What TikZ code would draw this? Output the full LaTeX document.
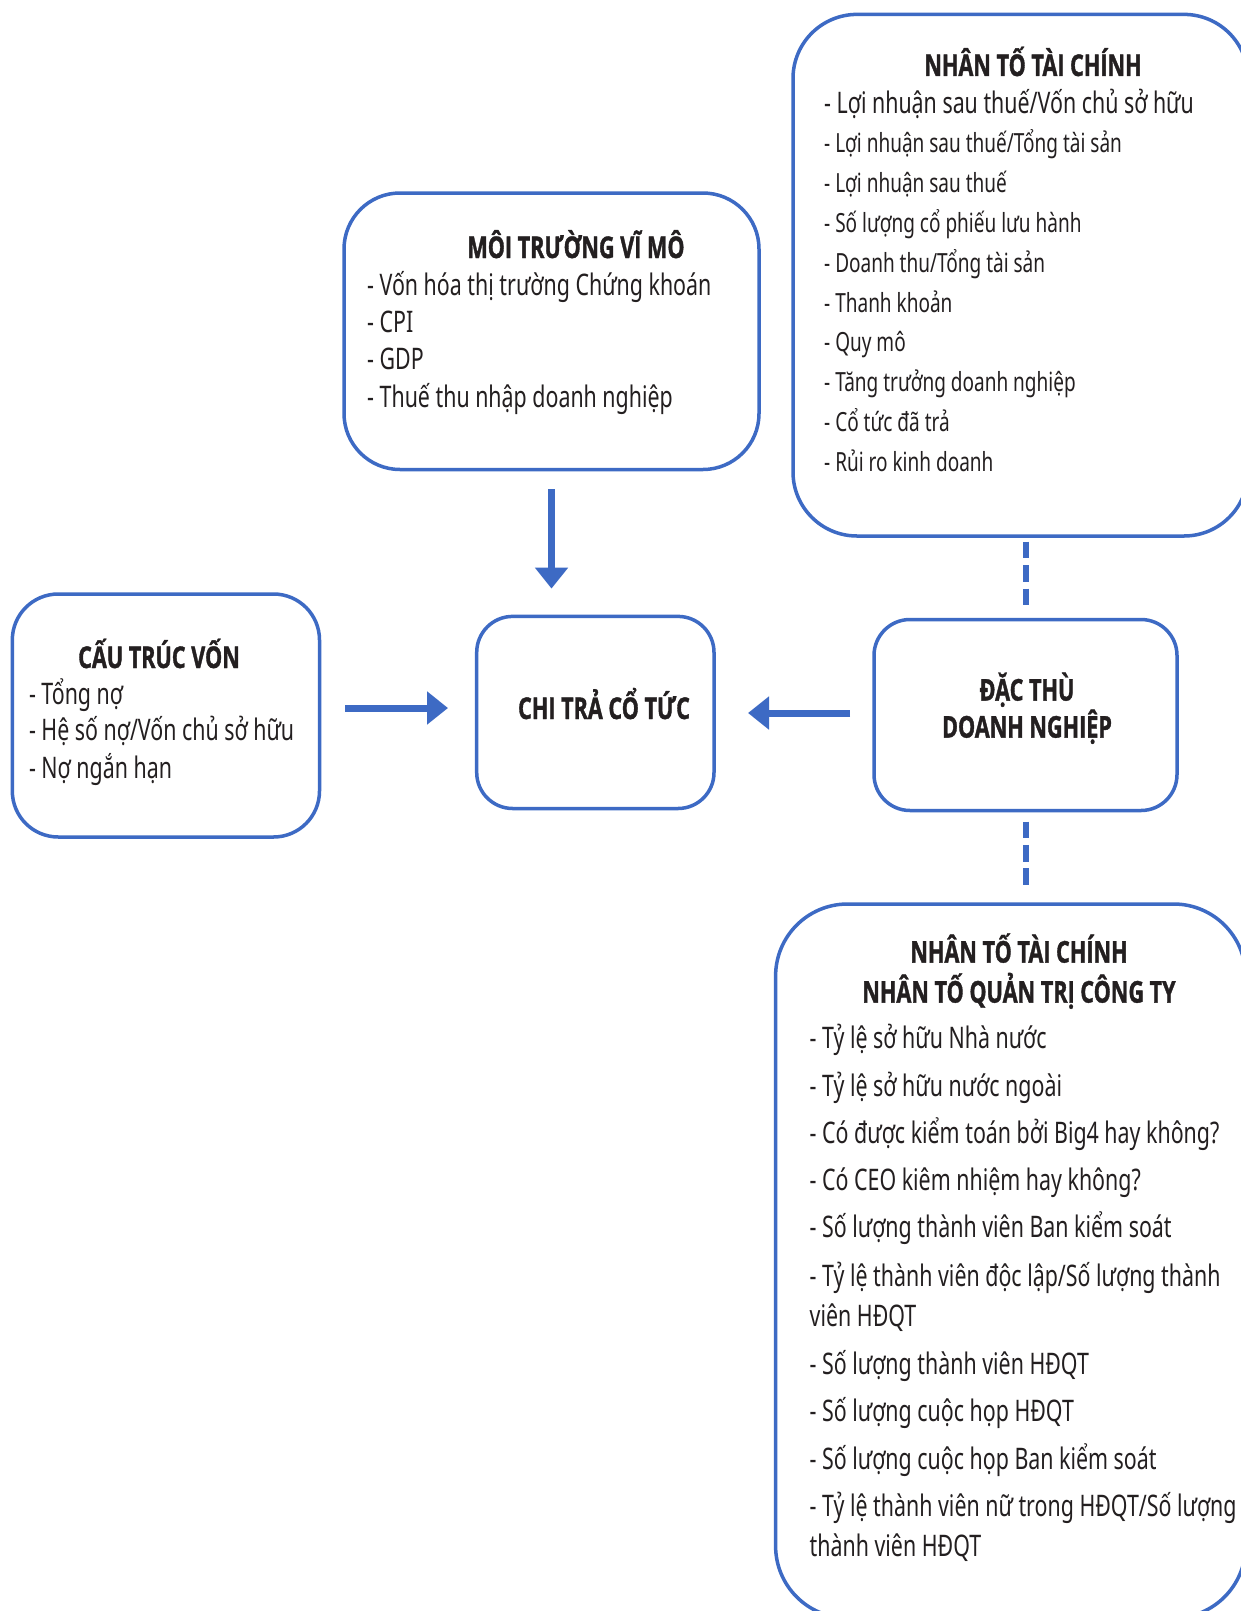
\documentclass[tikz,border=0pt]{standalone}
\usepackage{fontspec}
\setmainfont{Noto Sans}[FakeStretch=0.72]
\newfontfamily\titlefam{Open Sans}[FakeStretch=0.72, BoldFeatures={FakeBold=1.2}]
\usetikzlibrary{arrows.meta}
\definecolor{bblue}{RGB}{61,106,196}
\definecolor{ink}{RGB}{35,31,32}
\newcommand{\bodyfont}{\fontsize{29.7}{32}\selectfont}
\newcommand{\smallbody}{\fontsize{26.4}{28}\selectfont}
\newcommand{\titlefont}{\titlefam\fontsize{30}{32}\selectfont\bfseries}
\begin{document}
\begin{tikzpicture}[x=1pt,y=-1pt,
  box/.style={draw=bblue, line width=3.5pt, fill=white, inner sep=0pt, outer sep=0pt},
  txt/.style={anchor=base west, inner sep=0pt, text=ink, font=\bodyfont},
  stxt/.style={anchor=base west, inner sep=0pt, text=ink, font=\smallbody},
  ttl/.style={anchor=base, inner sep=0pt, text=ink, font=\titlefont},
  arr/.style={draw=bblue, line width=7pt, -{Triangle[length=21pt,width=32pt]}},
  dsh/.style={draw=bblue, line width=6pt, dash pattern=on 16.7pt off 6.7pt}]
\useasboundingbox (0,0) rectangle (1241,1611);
\clip (0,0) rectangle (1241,1611);
\fill[white] (0,0) rectangle (1241,1611);

% boxes
\node[box, minimum width=455pt, minimum height=521.6pt, rounded corners=64pt] (fin) at (1020.5,275.2) {};
\node[box, minimum width=415pt, minimum height=276.5pt, rounded corners=56pt] (moi) at (551.5,331.25) {};
\node[box, minimum width=307.2pt, minimum height=243pt, rounded corners=46pt] (cau) at (165.9,715.5) {};
\node[box, minimum width=237.3pt, minimum height=192.1pt, rounded corners=36pt] (chi) at (595.35,712.45) {};
\node[box, minimum width=303pt, minimum height=191pt, rounded corners=36pt] (dac) at (1025.5,715) {};
\node[box, minimum width=470pt, minimum height=714pt, rounded corners=72pt] (qt) at (1010.6,1261) {};

% connectors
\coordinate (a1s) at (345,708);
\coordinate (a1e) at (448,708);
\coordinate (a2s) at (850,713);
\coordinate (a2e) at (748,713);
\draw[arr] (moi.south) ++(0,19.5) coordinate (a3s) -- (a3s |- 0,588.6) coordinate (a3e);
\draw[arr] (a1s) -- (a1e);
\draw[arr] (a2s) -- (a2e);
\draw[dsh] (fin.south -| dac.north) ++(0,5.7) coordinate (d1s) -- (d1s |- 0,605) coordinate (d1e);
\draw[dsh] (dac.south) ++(0,11) coordinate (d2s) -- (d2s |- 0,888) coordinate (d2e);

% MOI TRUONG VI MO
\node[ttl] (moit) at (576,258) {MÔI TRƯỜNG VĨ MÔ};
\node[txt] (moi1) at (367,295) {- Vốn hóa thị trường Chứng khoán};
\node[txt] (moi2) at (367,332) {- CPI};
\node[txt] (moi3) at (367,369) {- GDP};
\node[txt] (moi4) at (367,407) {- Thuế thu nhập doanh nghiệp};

% CAU TRUC VON
\node[ttl] (caut) at (159,668) {CẤU TRÚC VỐN};
\node[txt] (cau1) at (28.8,704) {- Tổng nợ};
\node[txt] (cau2) at (28.8,740) {- Hệ số nợ/Vốn chủ sở hữu};
\node[txt] (cau3) at (28.8,778) {- Nợ ngắn hạn};

% CHI TRA CO TUC
\node[ttl] (chit) at (604,719) {CHI TRẢ CỔ TỨC};

% DAC THU
\node[ttl] (dac1) at (1027,700.6) {ĐẶC THÙ};
\node[ttl] (dac2) at (1027,737.6) {DOANH NGHIỆP};

% NHAN TO TAI CHINH (top)
\node[ttl] (fint) at (1033,76) {NHÂN TỐ TÀI CHÍNH};
\node[txt] (fin1) at (824,113) {- Lợi nhuận sau thuế/Vốn chủ sở hữu};
\foreach \t [count=\i] in {{- Lợi nhuận sau thuế/Tổng tài sản},{- Lợi nhuận sau thuế},{- Số lượng cổ phiếu lưu hành},{- Doanh thu/Tổng tài sản},{- Thanh khoản},{- Quy mô},{- Tăng trưởng doanh nghiệp},{- Cổ tức đã trả},{- Rủi ro kinh doanh}}
  \node[stxt] (finl\i) at (824,{113+39.8*\i}) {\t};

% NHAN TO QUAN TRI (bottom)
\node[ttl] (qtt1) at (1019,962.6) {NHÂN TỐ TÀI CHÍNH};
\node[ttl] (qtt2) at (1019,1002.6) {NHÂN TỐ QUẢN TRỊ CÔNG TY};
\node[txt] (qt1) at (809.5,1048.9) {- Tỷ lệ sở hữu Nhà nước};
\node[txt] (qt2) at (809.5,1096.1) {- Tỷ lệ sở hữu nước ngoài};
\node[txt] (qt3) at (809.5,1143.4) {- Có được kiểm toán bởi Big4 hay không?};
\node[txt] (qt4) at (809.5,1190.6) {- Có CEO kiêm nhiệm hay không?};
\node[txt] (qt5) at (809.5,1237.9) {- Số lượng thành viên Ban kiểm soát};
\node[txt] (qt6) at (809.5,1286.2) {- Tỷ lệ thành viên độc lập/Số lượng thành};
\node[txt] (qt6b) at (809.5,1326.3) {viên HĐQT};
\node[txt] (qt7) at (809.5,1374.5) {- Số lượng thành viên HĐQT};
\node[txt] (qt8) at (809.5,1421.8) {- Số lượng cuộc họp HĐQT};
\node[txt] (qt9) at (809.5,1469.0) {- Số lượng cuộc họp Ban kiểm soát};
\node[txt] (qt10) at (809.5,1516.3) {- Tỷ lệ thành viên nữ trong HĐQT/Số lượng};
\node[txt] (qt10b) at (809.5,1556.4) {thành viên HĐQT};
\end{tikzpicture}
\end{document}
